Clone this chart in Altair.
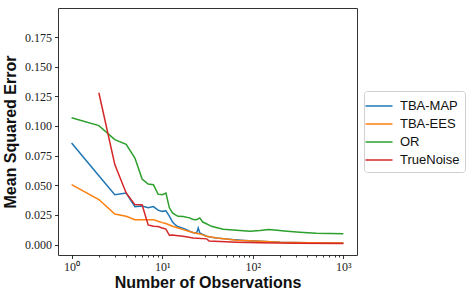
import altair as alt
import pandas as pd

# ---- data ----
map_x = [1, 2, 3, 4, 5, 6, 7, 8, 9, 10, 11, 12, 13, 14, 15, 16, 18, 20, 22, 24, 25, 26, 28, 31, 35, 40, 50, 60, 80, 120, 200, 400, 1000]
map_y = [0.0857, 0.058, 0.042, 0.0435, 0.032, 0.0325, 0.031, 0.032, 0.029, 0.028, 0.0285, 0.024, 0.019, 0.0165, 0.015, 0.0145, 0.013, 0.0112, 0.010, 0.0098, 0.014, 0.0098, 0.0085, 0.007, 0.0062, 0.0056, 0.0048, 0.0042, 0.0035, 0.0028, 0.002, 0.0015, 0.0012]

ees_x = [1, 2, 3, 4, 5, 6, 7, 8, 9, 10, 11, 12, 13, 15, 17, 20, 23, 26, 31, 40, 66, 120, 200, 400, 1000]
ees_y = [0.0505, 0.038, 0.0258, 0.0238, 0.021, 0.021, 0.021, 0.021, 0.0196, 0.0185, 0.0177, 0.0165, 0.0154, 0.014, 0.0126, 0.011, 0.0098, 0.009, 0.007, 0.0056, 0.0036, 0.0028, 0.002, 0.0016, 0.0013]

or_x = [1, 2, 3, 4, 5, 6, 7, 8, 9, 10, 11, 12, 13, 14, 15, 17, 20, 22, 24, 26, 28, 30, 35, 47, 66, 93, 120, 150, 185, 240, 330, 500, 1000]
or_y = [0.107, 0.1003, 0.0885, 0.0845, 0.073, 0.0553, 0.051, 0.0505, 0.0425, 0.042, 0.0435, 0.031, 0.0267, 0.025, 0.0238, 0.0236, 0.0225, 0.0212, 0.021, 0.0225, 0.019, 0.018, 0.0154, 0.013, 0.012, 0.0112, 0.0118, 0.0126, 0.012, 0.0112, 0.0104, 0.0095, 0.0092]

tn_x = [2, 3, 4, 5, 6, 7, 8, 9, 10, 11, 12, 13, 15, 17, 22, 31, 33, 50, 66, 120, 300, 1000]
tn_y = [0.128, 0.0674, 0.0435, 0.0337, 0.0335, 0.0166, 0.0155, 0.0152, 0.014, 0.013, 0.0078, 0.0080, 0.0075, 0.007, 0.0056, 0.0048, 0.003, 0.0024, 0.002, 0.0015, 0.0011, 0.0009]

series_names = ["TBA-MAP", "TBA-EES", "OR", "TrueNoise"]
series_colors = ["#1f77b4", "#ff7f0e", "#2ca02c", "#d62728"]

y_ticks = [0.0, 0.025, 0.05, 0.075, 0.1, 0.125, 0.15, 0.175]
x_major = [1, 10, 100, 1000]
x_minor = [2, 3, 4, 5, 6, 7, 8, 9, 20, 30, 40, 50, 60, 70, 80, 90,
           200, 300, 400, 500, 600, 700, 800, 900]

rows = []
for name, xs, ys in zip(series_names, [map_x, ees_x, or_x, tn_x], [map_y, ees_y, or_y, tn_y]):
    for x, y in zip(xs, ys):
        rows.append({"n": x, "mse": y, "method": name})
df = pd.DataFrame(rows)

xscale = alt.Scale(type="log", domain=[0.708, 1413], nice=False)
yscale = alt.Scale(domain=[-0.0088, 0.1995], nice=False, zero=False)

label_expr = ("datum.value == 1 ? '10⁰' : datum.value == 10 ? '10¹' : "
              "datum.value == 100 ? '10²' : '10³'")

lines = alt.Chart(df).mark_line(strokeWidth=1.5).encode(
    x=alt.X("n:Q", scale=xscale,
            axis=alt.Axis(values=x_major, labelExpr=label_expr, orient="bottom",
                          title="Number of Observations", tickSize=3.5,
                          labelPadding=3, titlePadding=2)),
    y=alt.Y("mse:Q", scale=yscale,
            axis=alt.Axis(values=y_ticks, format=".3f", title="Mean Squared Error",
                          tickSize=3.5, labelPadding=3, titlePadding=6)),
    color=alt.Color("method:N",
                    scale=alt.Scale(domain=series_names, range=series_colors),
                    legend=alt.Legend(title=None, orient="none", legendX=306, legendY=83,
                                      symbolType="M-1.5,0H1.5", symbolSize=324,
                                      symbolStrokeWidth=1.5, labelFontSize=13,
                                      labelFont="Liberation Sans", labelColor="#111",
                                      strokeColor="#d0d0d0", cornerRadius=3,
                                      padding=5, rowPadding=1, labelOffset=11,
                                      fillColor="white")),
    order=alt.Order("n:Q"),
)

minor = alt.Chart(pd.DataFrame({"n": x_minor})).mark_point(opacity=0).encode(
    x=alt.X("n:Q", scale=xscale,
            axis=alt.Axis(values=x_minor, labels=False, orient="bottom", tickSize=2,
                          title=None, domain=False, grid=False)),
)

chart = alt.layer(lines, minor).resolve_axis(x="independent").resolve_scale(x="shared").properties(
    width=299, height=247,
    autosize=alt.AutoSizeParams(type="none"),
    padding={"left": 58, "top": 8, "right": 115, "bottom": 37},
).configure_view(
    stroke="#333", strokeWidth=1
).configure_axis(
    domain=False, grid=False, tickColor="#000", tickWidth=0.8,
    labelFont="Liberation Serif", labelFontSize=12, labelColor="#222",
    titleFont="Liberation Sans", titleFontSize=16, titleFontWeight="bold", titleColor="#111",
)

chart.save("out.html", embed_options={"renderer": "svg", "actions": False})
